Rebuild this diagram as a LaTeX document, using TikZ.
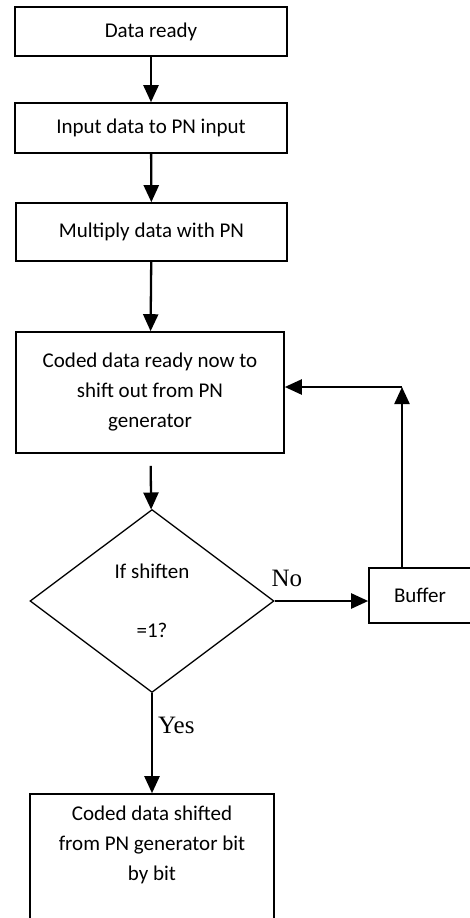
\documentclass[tikz,border=0pt]{standalone}
\usepackage{fontspec}
\setmainfont{Carlito}
\newfontfamily\timesfont{Liberation Serif}
\usetikzlibrary{arrows.meta,shapes.geometric,positioning}

\tikzset{
	block/.style={draw, line width=1.6pt, align=center, inner sep=0pt, font=\fontsize{21}{30}\selectfont},
	decision/.style={draw, diamond, aspect=1.33, line width=1.3pt, inner sep=0pt, minimum width=244pt, minimum height=183pt, align=center, font=\fontsize{21}{30}\selectfont},
	flow/.style={line width=2.3pt, -{Triangle[length=17pt,width=15pt]}},
	answer/.style={font=\timesfont\fontsize{25}{30}\selectfont, inner sep=0pt}
}

\begin{document}
\begin{tikzpicture}[x=1pt,y=-1pt]
			\useasboundingbox (0,0) rectangle (470,918);
			\fill[white] (0,0) rectangle (470,918);
			\clip (0,0) rectangle (470,918);
			\node[block, minimum width=272pt, minimum height=49pt] (ready) at (151,31.5) {Data ready};
			\node[block, minimum width=272pt, minimum height=50pt] (input) at (151,128) {Input data to PN input};
			\node[block, minimum width=271pt, minimum height=58pt] (mult) at (151.5,232) {Multiply data with PN};
			\node[block, minimum width=268pt, minimum height=121pt] (coded) at (150,392.5) {Coded data ready now to\\shift out from PN\\generator};
			\node[decision] (shift) at (152,601) {If shiften\\[29pt]=1?};
			\node[block, minimum width=102pt, minimum height=55pt] (buf) at (420,595.5) {Buffer};
			\node[block, minimum width=244pt, minimum height=128pt] (out) at (152,858) {Coded data shifted\\from PN generator bit\\by bit\\[-10pt]\strut};
			\coordinate (bend) at (402,387);
			\draw[flow] (ready) -- (input);
			\draw[flow] (input) -- (mult);
			\draw[flow] (mult) -- (coded);
			\draw[flow, shorten <=12pt] (coded) -- (shift);
			\draw[flow] (shift) -- node[answer, right=5pt, pos=0.32] (yes) {Yes} (out);
			\draw[flow] (shift.east) -- node[answer, above=13pt, pos=0.13] (no) {No} (shift.east -| buf.west);
%			loop back from the buffer
			\draw[flow] (buf.north -| bend) -- (bend);
			\draw[flow] (bend) -- (bend -| coded.east);
		\end{tikzpicture}
\end{document}
